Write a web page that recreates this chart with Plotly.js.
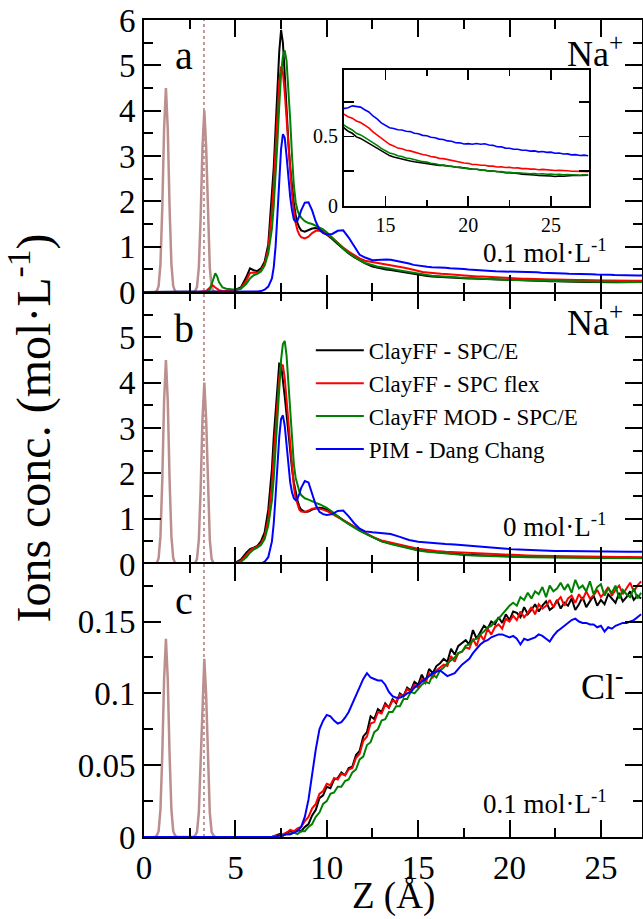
<!DOCTYPE html>
<html>
<head>
<meta charset="utf-8">
<script src="https://cdn.plot.ly/plotly-3.0.1.min.js"></script>
<style>html,body{margin:0;padding:0;background:#fff;}#chart{width:643px;height:919px;}</style>
</head>
<body>
<div id="chart"></div>
<script>
// ---------------- DATA ----------------
const seriesNames = ['ClayFF - SPC/E', 'ClayFF - SPC flex', 'ClayFF MOD - SPC/E', 'PIM - Dang Chang'];
const seriesColors = ['#000000', '#ff0000', '#008000', '#0000ff'];

// clay atom density profile (brown peaks), Z in Angstrom
const zBrown = [0.6,0.7,0.8,0.9,1.0,1.1,1.2,1.3,1.4,1.5,1.6,1.7,1.8,
                2.7,2.8,2.9,3.0,3.1,3.2,3.3,3.4,3.5,3.6,3.7,3.8,3.9];
const brownNa = [0,0.02,0.13,0.61,1.85,3.6,4.5,3.6,1.85,0.61,0.13,0.02,0,
                 0,0.02,0.11,0.54,1.64,3.2,4.0,3.2,1.64,0.54,0.11,0.02,0];
const brownCl = [0,0.001,0.004,0.019,0.057,0.11,0.138,0.11,0.057,0.019,0.004,0.001,0,
                 0,0.001,0.0035,0.017,0.051,0.099,0.124,0.099,0.051,0.017,0.0035,0.001,0];
const dottedZ = [3.28];

// Panel a : Na+ at 0.1 mol/L
const zA = [0,3.0,3.4,3.6,3.75,3.9,4.0,4.1,4.3,4.5,
  5.0,5.3,5.6,5.8,6.0,6.2,6.4,6.6,6.8,7.0,
  7.1,7.2,7.3,7.4,7.5,7.6,7.7,7.8,7.9,8.0,
  8.1,8.2,8.3,8.4,8.5,8.6,8.8,9.0,9.2,9.4,
  9.6,9.8,10.0,10.3,10.6,10.9,11.2,11.5,11.8,12.1,
  12.5,12.75,13.0,13.25,13.5,13.75,14.0,14.25,14.5,14.75,
  15.0,15.25,15.5,15.75,16.0,16.25,16.5,16.75,17.0,17.25,
  17.5,17.75,18.0,18.25,18.5,18.75,19.0,19.25,19.5,19.75,
  20.0,20.25,20.5,20.75,21.0,21.25,21.5,21.75,22.0,22.25,
  22.5,22.75,23.0,23.25,23.5,23.75,24.0,24.25,24.5,24.75,
  25.0,25.25,25.5,25.75,26.0,26.25,26.5,26.75,27.0,27.25];
const naA_clayff_spce = [0,0,0,0,0,0.01,0.01,0.01,0.02,0.02,
  0.05,0.1,0.33,0.52,0.48,0.46,0.52,0.67,1.05,2.1,
  2.75,3.6,4.5,5.3,5.78,5.5,4.8,4.0,3.3,2.75,
  2.3,1.95,1.7,1.52,1.42,1.36,1.33,1.36,1.4,1.41,
  1.38,1.33,1.27,1.17,1.06,0.95,0.85,0.77,0.7,0.63,
  0.562,0.538,0.523,0.497,0.486,0.468,0.452,0.428,0.411,0.392,
  0.376,0.362,0.351,0.343,0.336,0.329,0.323,0.317,0.313,0.307,
  0.304,0.297,0.297,0.291,0.291,0.286,0.284,0.279,0.277,0.271,
  0.269,0.264,0.263,0.258,0.257,0.251,0.251,0.245,0.244,0.239,
  0.238,0.233,0.233,0.228,0.227,0.223,0.222,0.218,0.218,0.214,
  0.214,0.211,0.215,0.213,0.217,0.216,0.220,0.218,0.222,0.221];
const naA_clayff_flex = [0,0,0.02,0.1,0.15,0.1,0.06,0.04,0.02,0.02,
  0.04,0.08,0.25,0.42,0.43,0.42,0.47,0.62,0.95,1.8,
  2.4,3.2,4.0,4.65,4.97,4.85,4.4,3.8,3.2,2.65,
  2.15,1.8,1.52,1.36,1.26,1.21,1.18,1.22,1.3,1.35,
  1.35,1.32,1.28,1.19,1.08,0.98,0.89,0.81,0.74,0.69,
  0.662,0.643,0.632,0.612,0.601,0.581,0.562,0.533,0.512,0.485,
  0.467,0.443,0.432,0.416,0.411,0.400,0.396,0.386,0.381,0.370,
  0.365,0.355,0.351,0.342,0.340,0.333,0.329,0.320,0.316,0.308,
  0.306,0.298,0.298,0.292,0.292,0.286,0.286,0.280,0.281,0.276,
  0.277,0.272,0.273,0.268,0.269,0.264,0.265,0.260,0.262,0.258,
  0.259,0.254,0.255,0.251,0.252,0.249,0.250,0.246,0.248,0.245];
const naA_clayffmod_spce = [0,0,0,0.05,0.25,0.41,0.35,0.22,0.1,0.07,
  0.05,0.07,0.18,0.3,0.37,0.4,0.45,0.58,0.85,1.4,
  1.9,2.5,3.3,4.1,4.8,5.2,5.33,5.1,4.5,3.8,
  3.0,2.35,1.98,1.8,1.7,1.64,1.56,1.52,1.5,1.46,
  1.42,1.38,1.32,1.2,1.07,0.96,0.86,0.77,0.7,0.64,
  0.582,0.563,0.547,0.523,0.511,0.493,0.476,0.453,0.436,0.414,
  0.399,0.381,0.373,0.360,0.355,0.345,0.341,0.332,0.328,0.318,
  0.315,0.306,0.303,0.295,0.293,0.286,0.285,0.278,0.277,0.270,
  0.269,0.263,0.263,0.257,0.257,0.251,0.251,0.245,0.246,0.241,
  0.242,0.237,0.238,0.234,0.235,0.231,0.233,0.229,0.231,0.227,
  0.229,0.225,0.227,0.223,0.225,0.222,0.224,0.220,0.223,0.220];
const naA_pim = [0,0,0,0,0,0,0,0,0,0,
  0,0,0,0,0,0.01,0.02,0.05,0.12,0.3,
  0.55,1.0,1.7,2.5,3.15,3.48,3.4,3.0,2.5,2.1,
  1.8,1.6,1.55,1.58,1.68,1.8,1.97,1.98,1.8,1.55,
  1.38,1.3,1.27,1.28,1.35,1.36,1.2,1.0,0.82,0.76,
  0.702,0.708,0.721,0.718,0.712,0.693,0.677,0.648,0.627,0.598,
  0.582,0.563,0.557,0.548,0.547,0.538,0.535,0.523,0.520,0.508,
  0.505,0.494,0.491,0.481,0.478,0.468,0.465,0.455,0.454,0.446,
  0.448,0.444,0.449,0.444,0.447,0.438,0.436,0.426,0.425,0.416,
  0.415,0.408,0.408,0.400,0.401,0.394,0.396,0.389,0.391,0.385,
  0.387,0.379,0.380,0.373,0.374,0.367,0.369,0.363,0.365,0.361];

// Panel b : Na+ at 0 mol/L
const zB = [0,3.0,3.4,3.6,3.75,3.9,4.0,4.1,4.3,4.5,
  5.0,5.3,5.6,5.8,6.0,6.2,6.4,6.6,6.8,7.0,
  7.1,7.2,7.3,7.4,7.5,7.6,7.7,7.8,7.9,8.0,
  8.1,8.2,8.3,8.4,8.5,8.6,8.8,9.0,9.2,9.4,
  9.6,9.8,10.0,10.3,10.6,10.9,11.2,11.5,11.8,12.1,
  12.5,13.0,13.5,14.0,14.5,15.0,15.5,16.0,16.5,17.0,
  17.5,18.0,18.5,19.0,19.5,20.0,20.5,21.0,21.5,22.0,
  22.5,23.0,23.5,24.0,24.5,25.0,25.5,26.0,26.5,27.0,
  27.25];
const naB_clayff_spce = [0,0,0,0,0,0,0,0,0,0,
  0.03,0.1,0.25,0.33,0.36,0.4,0.5,0.7,1.2,2.1,
  2.8,3.4,4.0,4.42,4.4,4.1,3.7,3.3,2.85,2.45,
  2.1,1.8,1.58,1.4,1.27,1.2,1.15,1.16,1.2,1.23,
  1.24,1.23,1.2,1.13,1.05,0.97,0.89,0.82,0.75,0.68,
  0.6,0.5,0.45,0.4,0.35,0.31,0.28,0.26,0.24,0.225,
  0.21,0.2,0.19,0.18,0.175,0.17,0.165,0.16,0.156,0.152,
  0.15,0.148,0.146,0.144,0.142,0.14,0.14,0.139,0.138,0.138,
  0.138];
const naB_clayff_flex = [0,0,0,0,0,0,0,0,0,0,
  0.02,0.07,0.2,0.3,0.35,0.38,0.45,0.6,1.0,1.75,
  2.4,3.0,3.6,4.1,4.4,4.38,4.1,3.6,3.05,2.5,
  2.05,1.7,1.45,1.3,1.2,1.16,1.15,1.18,1.22,1.23,
  1.22,1.2,1.17,1.1,1.03,0.96,0.89,0.82,0.75,0.69,
  0.6,0.52,0.47,0.43,0.38,0.34,0.31,0.29,0.27,0.26,
  0.25,0.235,0.225,0.215,0.21,0.2,0.195,0.19,0.185,0.18,
  0.175,0.17,0.168,0.165,0.162,0.16,0.157,0.155,0.153,0.151,
  0.15];
const naB_clayffmod_spce = [0,0,0,0,0,0,0,0,0,0,
  0.02,0.05,0.15,0.25,0.32,0.36,0.42,0.55,0.85,1.4,
  1.9,2.5,3.2,3.9,4.5,4.85,4.92,4.6,4.0,3.3,
  2.7,2.2,1.9,1.72,1.6,1.52,1.45,1.42,1.38,1.35,
  1.32,1.28,1.24,1.15,1.05,0.96,0.88,0.8,0.73,0.67,
  0.6,0.5,0.44,0.39,0.34,0.3,0.27,0.25,0.23,0.215,
  0.2,0.19,0.18,0.172,0.166,0.16,0.155,0.15,0.146,0.142,
  0.14,0.138,0.136,0.134,0.133,0.132,0.131,0.13,0.13,0.13,
  0.13];
const naB_pim = [0,0,0,0,0,0,0,0,0,0,
  0,0,0,0,0,0,0.01,0.05,0.15,0.5,
  0.9,1.5,2.2,2.8,3.2,3.28,3.05,2.6,2.15,1.8,
  1.58,1.45,1.41,1.44,1.55,1.68,1.83,1.8,1.55,1.3,
  1.15,1.1,1.08,1.1,1.17,1.18,1.05,0.9,0.78,0.72,
  0.7,0.68,0.66,0.6,0.53,0.49,0.47,0.455,0.44,0.43,
  0.42,0.4,0.38,0.36,0.345,0.33,0.32,0.31,0.3,0.295,
  0.29,0.29,0.285,0.28,0.28,0.275,0.275,0.27,0.27,0.27,
  0.27];

// Panel c : Cl- at 0.1 mol/L
const zC = [0,6.8,
  7.0,7.2,7.4,7.6,7.8,8.0,8.2,8.4,8.6,8.8,
  9.0,9.2,9.4,9.6,9.8,10.0,10.2,10.4,10.6,10.8,
  11.0,11.2,11.4,11.6,11.8,12.0,12.2,12.4,12.6,12.8,
  13.0,13.2,13.4,13.6,13.8,14.0,14.2,14.4,14.6,14.8,
  15.0,15.2,15.4,15.6,15.8,16.0,16.2,16.4,16.6,16.8,
  17.0,17.2,17.4,17.6,17.8,18.0,18.2,18.4,18.6,18.8,
  19.0,19.2,19.4,19.6,19.8,20.0,20.2,20.4,20.6,20.8,
  21.0,21.2,21.4,21.6,21.8,22.0,22.2,22.4,22.6,22.8,
  23.0,23.2,23.4,23.6,23.8,24.0,24.2,24.4,24.6,24.8,
  25.0,25.2,25.4,25.6,25.8,26.0,26.2,26.4,26.6,26.8,
  27.0,27.2];
const clC_clayff_spce = [0,0,
  0.000,0.001,0.002,0.001,0.003,0.004,0.003,0.005,0.004,0.007,
  0.009,0.015,0.019,0.027,0.029,0.035,0.034,0.040,0.041,0.045,
  0.043,0.048,0.049,0.057,0.060,0.070,0.073,0.084,0.082,0.089,
  0.087,0.093,0.090,0.096,0.093,0.100,0.098,0.104,0.102,0.108,
  0.106,0.113,0.108,0.117,0.114,0.119,0.121,0.124,0.122,0.131,
  0.127,0.133,0.135,0.137,0.134,0.144,0.138,0.143,0.147,0.145,
  0.150,0.148,0.153,0.149,0.155,0.151,0.157,0.156,0.153,0.160,
  0.155,0.158,0.162,0.157,0.161,0.164,0.158,0.160,0.165,0.159,
  0.163,0.161,0.166,0.158,0.162,0.167,0.160,0.164,0.168,0.161,
  0.165,0.162,0.169,0.166,0.163,0.170,0.164,0.167,0.171,0.165,
  0.168,0.166];
const clC_clayff_flex = [0,0,
  0.000,0.001,0.001,0.002,0.003,0.005,0.004,0.006,0.007,0.011,
  0.014,0.020,0.023,0.030,0.032,0.037,0.036,0.041,0.040,0.044,
  0.043,0.047,0.048,0.055,0.058,0.067,0.070,0.079,0.080,0.087,
  0.086,0.092,0.090,0.095,0.094,0.099,0.098,0.103,0.101,0.106,
  0.104,0.110,0.107,0.114,0.111,0.116,0.118,0.120,0.119,0.126,
  0.122,0.128,0.129,0.132,0.131,0.138,0.133,0.141,0.137,0.145,
  0.141,0.146,0.148,0.145,0.152,0.150,0.154,0.151,0.157,0.153,
  0.156,0.160,0.155,0.162,0.159,0.161,0.165,0.160,0.164,0.167,
  0.161,0.166,0.168,0.163,0.169,0.165,0.171,0.166,0.168,0.172,
  0.167,0.170,0.174,0.168,0.172,0.175,0.169,0.173,0.177,0.171,
  0.175,0.178];
const clC_clayffmod_spce = [0,0,
  0.000,0.000,0.001,0.001,0.002,0.002,0.003,0.002,0.004,0.004,
  0.007,0.009,0.014,0.017,0.023,0.025,0.030,0.031,0.035,0.035,
  0.039,0.040,0.045,0.047,0.054,0.056,0.064,0.066,0.073,0.075,
  0.081,0.082,0.087,0.087,0.091,0.091,0.096,0.096,0.101,0.100,
  0.103,0.106,0.108,0.107,0.113,0.111,0.116,0.118,0.121,0.123,
  0.125,0.128,0.129,0.133,0.134,0.137,0.138,0.141,0.143,0.146,
  0.147,0.150,0.152,0.155,0.158,0.161,0.163,0.161,0.167,0.165,
  0.170,0.166,0.171,0.169,0.174,0.167,0.175,0.171,0.173,0.177,
  0.172,0.176,0.170,0.179,0.173,0.175,0.171,0.178,0.169,0.174,
  0.176,0.168,0.173,0.170,0.175,0.166,0.172,0.169,0.167,0.173,
  0.166,0.170];
const clC_pim = [0,0,
  0.000,0.000,0.001,0.001,0.002,0.002,0.003,0.004,0.007,0.014,
  0.026,0.044,0.061,0.075,0.081,0.085,0.084,0.081,0.079,0.080,
  0.083,0.087,0.093,0.098,0.104,0.110,0.114,0.111,0.110,0.109,
  0.109,0.106,0.101,0.098,0.097,0.097,0.098,0.100,0.101,0.104,
  0.106,0.108,0.110,0.112,0.114,0.115,0.116,0.114,0.112,0.113,
  0.114,0.117,0.120,0.122,0.124,0.128,0.131,0.134,0.136,0.137,
  0.139,0.140,0.141,0.141,0.140,0.139,0.140,0.138,0.134,0.138,
  0.137,0.138,0.139,0.141,0.140,0.138,0.136,0.140,0.143,0.145,
  0.147,0.149,0.151,0.152,0.150,0.149,0.149,0.148,0.148,0.146,
  0.147,0.143,0.146,0.145,0.147,0.148,0.149,0.149,0.150,0.151,
  0.153,0.155];

const panelLetters = ['a', 'b', 'c'];
const ionLabels = ['Na<sup>+</sup>', 'Na<sup>+</sup>', 'Cl<sup>-</sup>'];
const concLabels = ['0.1 mol·L<sup>-1</sup>', '0 mol·L<sup>-1</sup>', '0.1 mol·L<sup>-1</sup>'];
const yTitle = 'Ions conc. (mol·L<sup>-1</sup>)';
const xTitle = 'Z (Å)';

// ---------------- BUILD ----------------
const FONT = 'Liberation Serif';
const BROWN = '#bc8f8f';
const traces = [];

const panels = [
  {x: zA, ys: [naA_clayff_spce, naA_clayff_flex, naA_clayffmod_spce, naA_pim], brown: brownNa, xa: 'x', ya: 'y'},
  {x: zB, ys: [naB_clayff_spce, naB_clayff_flex, naB_clayffmod_spce, naB_pim], brown: brownNa, xa: 'x2', ya: 'y2'},
  {x: zC, ys: [clC_clayff_spce, clC_clayff_flex, clC_clayffmod_spce, clC_pim], brown: brownCl, xa: 'x3', ya: 'y3'}
];
panels.forEach((p, pi) => {
  traces.push({x: zBrown, y: p.brown, xaxis: p.xa, yaxis: p.ya, mode: 'lines',
    line: {color: BROWN, width: 2.5}, showlegend: false, hoverinfo: 'skip'});
  p.ys.forEach((ys, si) => {
    traces.push({x: p.x, y: ys, xaxis: p.xa, yaxis: p.ya, mode: 'lines',
      name: seriesNames[si], line: {color: seriesColors[si], width: 2},
      showlegend: pi === 1, legendrank: si});
  });
});
// inset (zoom of panel a)
panels[0].ys.forEach((ys, si) => {
  traces.push({x: zA, y: ys, xaxis: 'x4', yaxis: 'y4', mode: 'lines',
    line: {color: seriesColors[si], width: 1.6}, showlegend: false});
});

const TICKFONT = {family: FONT, size: 33, color: '#000'};
const xCommon = {
  range: [0, 27.25], linewidth: 2, linecolor: '#000', mirror: 'ticks',
  ticks: 'inside', ticklen: 17, tickwidth: 2, tickcolor: '#000', dtick: 5, tick0: 0,
  minor: {ticks: 'inside', ticklen: 9, tickwidth: 2, dtick: 2.5, tick0: 0, tickcolor: '#000'},
  showgrid: false, zeroline: false, tickfont: TICKFONT
};
const yCommon = {
  showline: true, linewidth: 2, linecolor: '#000', mirror: 'ticks',
  ticks: 'inside', ticklen: 17, tickwidth: 2, tickcolor: '#000',
  showgrid: false, zeroline: false, tickfont: TICKFONT
};

const dA = [0.6671, 1], dB = [0.3341, 0.6671], dC = [0, 0.3341];

const layout = {
  width: 643, height: 919,
  margin: {l: 144, r: 1, t: 20, b: 82},
  paper_bgcolor: '#fff', plot_bgcolor: 'rgba(0,0,0,0)',
  font: {family: FONT, color: '#000'},
  showlegend: true,
  legend: {x: 0.335, y: 0.622, xanchor: 'left', yanchor: 'top', bgcolor: 'rgba(0,0,0,0)',
    font: {family: FONT, size: 23, color: '#000'}, itemwidth: 48, tracegroupgap: 0},
  xaxis: Object.assign({}, xCommon, {anchor: 'y', domain: [0, 1], showline: true, showticklabels: false}),
  xaxis2: Object.assign({}, xCommon, {anchor: 'y2', domain: [0, 1], showline: false, showticklabels: false}),
  xaxis3: Object.assign({}, xCommon, {anchor: 'y3', domain: [0, 1], showline: true, showticklabels: true}),
  yaxis: Object.assign({}, yCommon, {anchor: 'x', domain: dA, range: [0, 6], dtick: 1, tick0: 0,
    minor: {ticks: 'inside', ticklen: 9, tickwidth: 2, dtick: 0.5, tick0: 0, tickcolor: '#000'}}),
  yaxis2: Object.assign({}, yCommon, {anchor: 'x2', domain: dB, range: [0, 6],
    tickmode: 'array', tickvals: [0, 1, 2, 3, 4, 5],
    minor: {ticks: 'inside', ticklen: 9, tickwidth: 2, dtick: 0.5, tick0: 0, tickcolor: '#000'},
    title: {text: yTitle, font: {family: FONT, size: 48, color: '#000'}}}),
  yaxis3: Object.assign({}, yCommon, {anchor: 'x3', domain: dC, range: [0, 0.19], dtick: 0.05, tick0: 0,
    minor: {ticks: 'inside', ticklen: 9, tickwidth: 2, dtick: 0.025, tick0: 0, tickcolor: '#000'}}),
  xaxis4: {anchor: 'y4', domain: [0.4016, 0.8936], range: [12.5, 27.3], showline: true, linewidth: 2,
    linecolor: '#000', mirror: 'ticks', ticks: 'inside', ticklen: 10, tickwidth: 1.5, tickcolor: '#000',
    tickmode: 'array', tickvals: [15, 20, 25],
    minor: {ticks: 'inside', ticklen: 6, tickwidth: 1.5, tickmode: 'array', tickvals: [17.5, 22.5], tickcolor: '#000'},
    showgrid: false, zeroline: false, tickfont: {family: FONT, size: 20, color: '#000'}},
  yaxis4: {anchor: 'x4', domain: [0.7727, 0.9388], range: [0, 0.98], showline: true, linewidth: 2,
    linecolor: '#000', mirror: 'ticks', ticks: 'inside', ticklen: 10, tickwidth: 1.5, tickcolor: '#000',
    tickmode: 'array', tickvals: [0, 0.25, 0.5, 0.75], ticktext: ['0', ' ', '0.5', ' '],
    showgrid: false, zeroline: false, tickfont: {family: FONT, size: 20, color: '#000'}},
  shapes: [{type: 'line', xref: 'x', yref: 'paper', x0: dottedZ[0], x1: dottedZ[0], y0: 0, y1: 1,
    line: {color: BROWN, width: 1.8, dash: 'dot'}, layer: 'below'}],
  annotations: [{xref: 'paper', yref: 'paper', x: 0.5, y: -0.072, text: xTitle, showarrow: false,
    xanchor: 'center', yanchor: 'middle', font: {family: FONT, size: 37, color: '#000'}}]
};

const yRefs = ['y', 'y2', 'y3'];
const xRefs = ['x', 'x2', 'x3'];
const letterY = [0.868, 0.866, 0.866];
const ionY = [0.883, 0.894, 0.56];
const concY = [0.152, 0.1445, 0.129];
for (let i = 0; i < 3; i++) {
  layout.annotations.push({xref: xRefs[i] + ' domain', yref: yRefs[i] + ' domain', x: 0.08, y: letterY[i],
    text: panelLetters[i], showarrow: false, xanchor: 'center', yanchor: 'middle',
    font: {family: FONT, size: 40, color: '#000'}});
  layout.annotations.push({xref: xRefs[i] + ' domain', yref: yRefs[i] + ' domain', x: 0.966, y: ionY[i],
    text: ionLabels[i], showarrow: false, xanchor: 'right', yanchor: 'middle',
    font: {family: FONT, size: 36, color: '#000'}});
  layout.annotations.push({xref: xRefs[i] + ' domain', yref: yRefs[i] + ' domain', x: 0.934, y: concY[i],
    text: concLabels[i], showarrow: false, xanchor: 'right', yanchor: 'middle',
    font: {family: FONT, size: 27, color: '#000'}});
}

Plotly.newPlot('chart', traces, layout, {staticPlot: true, displayModeBar: false});
</script>
</body>
</html>
